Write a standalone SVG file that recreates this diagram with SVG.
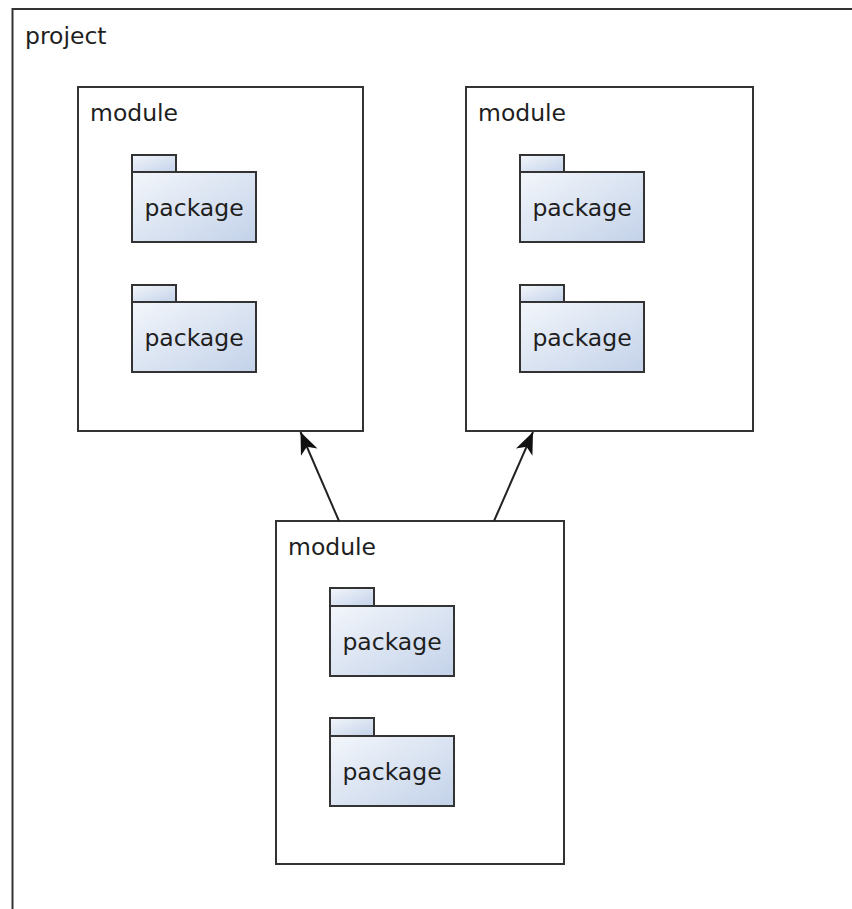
<svg xmlns="http://www.w3.org/2000/svg" width="852" height="909" viewBox="0 0 852 909">
<defs>
<linearGradient id="pkgGrad" x1="0" y1="0" x2="1" y2="1">
<stop offset="0" stop-color="#f3f6fb"/>
<stop offset="1" stop-color="#c3d2e9"/>
</linearGradient>
<marker id="arrow" viewBox="-24 -11 26 22" refX="0" refY="0" markerWidth="26" markerHeight="22" markerUnits="userSpaceOnUse" orient="auto">
<path d="M0,0 L-22,-9 L-16,0 L-22,9 Z" fill="#111"/>
</marker>
</defs>
<style>
text{font-family:"DejaVu Sans","Liberation Sans",sans-serif;font-size:23.5px;fill:#1e1e1e}
.frame{fill:#fff;stroke:#333;stroke-width:2}
.pkg{fill:url(#pkgGrad);stroke:#333;stroke-width:2}
.pt{text-anchor:middle}
.edge{stroke:#222;stroke-width:2;fill:none}
</style>
<rect width="852" height="909" fill="#fff"/>
<g id="project">
<rect class="frame" x="12.5" y="9" width="900" height="960"/>
<text x="25" y="44">project</text>
</g>
<g id="module1">
<rect class="frame" x="78" y="87" width="285" height="344"/>
<text x="90" y="121">module</text>
<g id="m1p1">
<rect class="pkg" x="132" y="155" width="44" height="17"/>
<rect class="pkg" x="132" y="172" width="124" height="70"/>
<text class="pt" x="194" y="216">package</text>
</g>
<g id="m1p2">
<rect class="pkg" x="132" y="285" width="44" height="17"/>
<rect class="pkg" x="132" y="302" width="124" height="70"/>
<text class="pt" x="194" y="346">package</text>
</g>
</g>
<g id="module2">
<rect class="frame" x="466" y="87" width="287" height="344"/>
<text x="478" y="121">module</text>
<g id="m2p1">
<rect class="pkg" x="520" y="155" width="44" height="17"/>
<rect class="pkg" x="520" y="172" width="124" height="70"/>
<text class="pt" x="582" y="216">package</text>
</g>
<g id="m2p2">
<rect class="pkg" x="520" y="285" width="44" height="17"/>
<rect class="pkg" x="520" y="302" width="124" height="70"/>
<text class="pt" x="582" y="346">package</text>
</g>
</g>
<g id="module3">
<rect class="frame" x="276" y="521" width="288" height="343"/>
<text x="288" y="555">module</text>
<g id="m3p1">
<rect class="pkg" x="330" y="588" width="44" height="18"/>
<rect class="pkg" x="330" y="606" width="124" height="70"/>
<text class="pt" x="392" y="650">package</text>
</g>
<g id="m3p2">
<rect class="pkg" x="330" y="718" width="44" height="18"/>
<rect class="pkg" x="330" y="736" width="124" height="70"/>
<text class="pt" x="392" y="780">package</text>
</g>
</g>
<g id="connectors">
<line class="edge" x1="339" y1="521" x2="300.5" y2="432" marker-end="url(#arrow)"/>
<line class="edge" x1="494" y1="521" x2="533" y2="432" marker-end="url(#arrow)"/>
</g>
</svg>
